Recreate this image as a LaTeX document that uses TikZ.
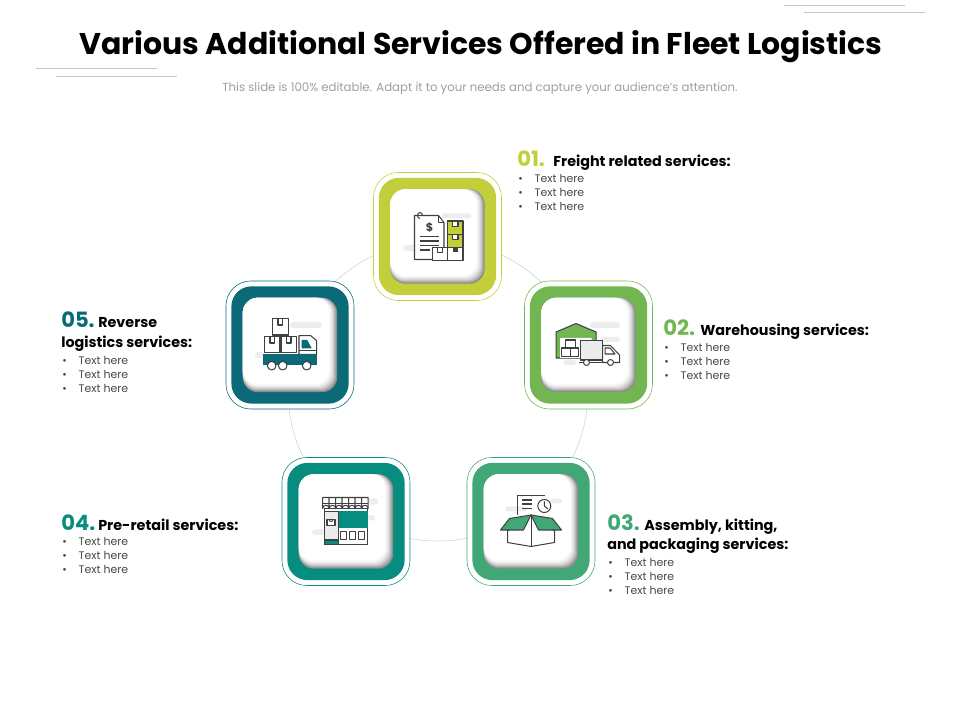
\documentclass[tikz,border=0pt]{standalone}
\usepackage{fontspec}
\setmainfont{Poppins}
\definecolor{col1}{HTML}{C2CF3B}
\definecolor{col2}{HTML}{72B651}
\definecolor{col3}{HTML}{41A776}
\definecolor{col4}{HTML}{078D80}
\definecolor{col5}{HTML}{0A6A78}
\definecolor{inkgray}{HTML}{404040}
\tikzset{
	outerbox/.style={rectangle,draw=#1,fill=white,line width=0.4pt,rounded corners=0.62cm,minimum size=3.2cm},
	colorbox/.style={rectangle,fill=#1,rounded corners=0.5cm,minimum size=2.93cm},
	shadebox/.style={rectangle,fill=black!#1,rounded corners=0.38cm},
	smudge/.style={fill=black!7,rounded corners=2pt},
	ink/.style={draw=inkgray,line width=0.72pt,line join=round},
	deco/.style={draw=black!22,line width=0.5pt},
	numlabel/.style={anchor=base west,inner sep=0pt,text=#1,font=\fontsize{15}{17}\selectfont\bfseries},
	headlabel/.style={anchor=base west,inner sep=0pt,font=\fontsize{10.2}{12}\selectfont\bfseries},
	itemlist/.style={anchor=north west,inner sep=0pt,align=left,text=black!72,font=\fontsize{7.8}{10}\selectfont},
}
\newcommand{\bul}{\makebox[11.6pt][l]{\textbullet}}
\begin{document}
\begin{tikzpicture}[x=0.025cm,y=-0.025cm]
	\useasboundingbox (0,0) rectangle (960,720);

	% header
	\node[inner sep=0pt,font=\fontsize{21.3}{25}\selectfont\bfseries] (title) at (481,47) {Various Additional Services Offered in Fleet Logistics};
	\node[inner sep=0pt,text=black!38,font=\fontsize{8.35}{10}\selectfont] (subtitle) at (480,88.5) {This slide is 100\% editable. Adapt it to your needs and capture your audience's attention.};
	\draw[deco] (784,5) -- (905,5);
	\draw[deco] (804,12) -- (925,12);
	\draw[deco] (36,68) -- (157,68);
	\draw[deco] (56,76) -- (177,76);

	% ring
	\node[circle,draw=black!18,line width=0.4pt,minimum size=7.5cm] (ring) at (438,391) {};

	% boxes
	\foreach \n/\x/\y/\c in {1/437.5/236.5/col1,2/588.5/345/col2,3/531/521.5/col3,4/346/521.5/col4,5/290/345/col5} {
		\node[outerbox=\c] (outer\n) at (\x,\y) {};
		\node[colorbox=\c] (color\n) at (\x,\y) {};
		\foreach \d/\g in {0/45,1/36,2/28,3/20,4/14,5/9,6/5,7/2} {
			\node[shadebox=\g,minimum size=2.36cm-\d*0.025cm] at (\x-\d/2,\y-\d/2) {};
		}
		\node[rectangle,fill=white,rounded corners=0.38cm,minimum size=2.16cm] (inner\n) at (\x-4,\y-4) {};
		\coordinate (mid\n) at (\x,\y);
	}

	% icon 1
	\begin{scope}[shift={(mid1)}]
		\fill[smudge] (4,-23) rectangle (34,-18);
		\fill[smudge] (-34,8.5) rectangle (-4,14.5);
		\draw[ink,fill=white] (-23,-21) -- (1,-21) -- (6.5,-14) -- (6.5,23) -- (-23,23) -- cycle;
		\draw[ink] (1,-21) -- (1,-14) -- (6.5,-14);
		\draw[ink] (-15,-21) arc (0:-270:2.5 and 3);
		\node[inner sep=0pt,text=inkgray,font=\fontsize{8}{8}\selectfont\bfseries] (dollar) at (-8,-9) {\$};
		\draw[ink] (-18,0) -- (1,0);
		\draw[ink] (-18,4.5) -- (1,4.5);
		\draw[ink] (-18,9) -- (1,9);
		\draw[ink] (-18,13.5) -- (-8,13.5);
		\draw[ink,fill=col1] (10,-15.5) rectangle (25.5,-2);
		\draw[ink,fill=col1] (10,-2) rectangle (25.5,11);
		\draw[ink,fill=white] (-5,11) rectangle (10,24);
		\draw[ink,fill=white] (10,11) rectangle (25.5,24);
		\draw[ink,fill=white] (15,-15.5) rectangle (20.5,-10);
		\draw[ink,fill=white] (15,-2) rectangle (20.5,3);
		\draw[ink,fill=white] (0,11) rectangle (5,16);
		\fill[inkgray] (15,11) rectangle (20.5,16);
	\end{scope}

	% icon 2
	\begin{scope}[shift={(mid2)}]
		\fill[smudge] (1.5,-23) rectangle (31.5,-17);
		\fill[smudge] (11.5,-8) rectangle (31.5,-3);
		\fill[smudge] (-25,15) rectangle (-12,20);
		\draw[ink,fill=col2] (-32.5,13) -- (-32.5,-13) -- (-12.5,-21.5) -- (7.5,-13) -- (7.5,-4) -- (-8,-4) -- (-8,13) -- (-28.5,13) -- cycle;
		\fill[white] (-28.5,13) -- (-28.5,-7) -- (3,-7) -- (3,-4) -- (-8,-4) -- (-8,13) -- cycle;
		\draw[ink,fill=white] (-23,-5) rectangle (-13.5,3);
		\draw[ink,fill=white] (-27,3) rectangle (-18.5,11.5);
		\draw[ink,fill=white] (-18.5,3) rectangle (-10,11.5);
		\draw[ink,fill=black!8] (-8,-4.5) rectangle (14,15);
		\draw[ink,fill=white] (14,0.5) -- (22,0.5) -- (31,10) -- (31,17.5) -- (14,17.5) -- cycle;
		\draw[ink] (16.5,3) -- (21.5,3) -- (26.5,9) -- (16.5,9) -- cycle;
		\draw[ink] (-10,17.5) -- (31.5,17.5);
		\draw[ink,fill=white] (-2,17.5) circle (3);
		\draw[ink,fill=white] (22,17.5) circle (3);
	\end{scope}

	% icon 3
	\begin{scope}[shift={(mid3)}]
		\fill[smudge] (-26,-15) rectangle (-4,-10);
		\fill[smudge] (19,-23) rectangle (31,-18);
		\draw[ink] (-13.5,-6.5) -- (-13.5,-26) -- (14,-26);
		\draw[ink] (-9,-21.5) -- (1,-21.5);
		\draw[ink] (-9,-17.5) -- (1,-17.5);
		\draw[ink] (-9,-13) -- (1,-13);
		\draw[ink,fill=white] (13.3,-15.5) circle (6.5);
		\draw[ink] (13.3,-20) -- (13.3,-15.5) -- (17,-12.5);
		\draw[ink,fill=white] (-23.5,9.5) -- (-23.5,21) -- (0,25) -- (23.5,21) -- (23.5,9.5) -- (0,-6.5) -- cycle;
		\draw[ink,fill=col3] (0,-6.5) -- (-21.5,-3) -- (-30.5,8.5) -- (-7.5,8.5) -- cycle;
		\draw[ink,fill=col3] (0,-6.5) -- (21.5,-3) -- (30.5,8.5) -- (7.5,8.5) -- cycle;
		\draw[ink] (0,-6.5) -- (0,25);
	\end{scope}

	% icon 4
	\begin{scope}[shift={(mid4)}]
		\fill[smudge] (-34,8) rectangle (-21,13.5);
		\fill[smudge] (17,-6.5) rectangle (29,-1);
		\fill[smudge] (22,-23) rectangle (32,-17);
		\draw[ink,fill=white] (-21.7,-13) rectangle (21.7,23);
		\fill[col4] (-7.7,-10) rectangle (21.7,7);
		\draw[ink,fill=black!8] (-21.7,-10) rectangle (-7.7,23);
		\draw[ink,fill=col4] (-21.7,18.5) rectangle (-7.7,23);
		\draw[ink,fill=white] (-19,-2) rectangle (-11,4);
		\draw[ink] (-17,-2) arc (180:0:2);
		\draw[ink,fill=white] (-5.3,10) rectangle (0.7,18);
		\draw[ink,fill=white] (3.3,10) rectangle (9.3,18);
		\draw[ink,fill=white] (12.3,10) rectangle (18.3,18);
		\foreach \k in {0,...,6} {
			\draw[ink,fill=white] (-23.3+6.5*\k,-24) -- (-23.3+6.5*\k,-13) arc (180:360:3.25 and 3.25) -- (-16.8+6.5*\k,-24) -- cycle;
		}
		\draw[ink] (-23.3,-18) -- (22.2,-18);
	\end{scope}

	% icon 5
	\begin{scope}[shift={(mid5)}]
		\fill[smudge] (0,-23) rectangle (31.7,-17);
		\fill[smudge] (-35,7) rectangle (-26,13);
		\draw[ink,fill=white] (-17.7,-26.7) rectangle (-1.7,-10);
		\draw[ink,fill=white] (-25.7,-8.3) rectangle (-10,7.3);
		\draw[ink,fill=white] (-9,-8.3) rectangle (6.7,7.3);
		\draw[ink] (-12,-26.7) -- (-12,-20) -- (-7.5,-20) -- (-7.5,-26.7);
		\draw[ink] (-20,-8.3) -- (-20,-2) -- (-15.5,-2) -- (-15.5,-8.3);
		\draw[ink] (-3.5,-8.3) -- (-3.5,-2) -- (1,-2) -- (1,-8.3);
		\draw[ink,fill=white] (9,9.3) -- (9,-9.3) -- (20.7,-9.3) -- (26.7,-4.3) -- (26.7,9.3) -- cycle;
		\fill[col5] (11.7,-5) -- (17.3,-5) -- (21.7,3.3) -- (11.7,3.3) -- cycle;
		\draw[ink] (9,5.5) -- (26.7,5.5);
		\fill[col5] (-26.7,9.3) rectangle (26.7,20);
		\draw[ink,fill=white] (-18.3,20.7) circle (4.3);
		\draw[ink,fill=white] (-7.3,20.7) circle (4.3);
		\draw[ink,fill=white] (16.7,20.7) circle (4.3);
	\end{scope}

	% texts
	\node[numlabel=col1] (num1) at (517,166.5) {01.};
	\node[headlabel] (head1) at (553,166.5) {Freight related services:};
	\node[itemlist] (list1) at (518,174) {\bul Text here\\\bul Text here\\\bul Text here};

	\node[numlabel=col2] (num2) at (663,336) {02.};
	\node[headlabel] (head2) at (700,336) {Warehousing services:};
	\node[itemlist] (list2) at (664,343) {\bul Text here\\\bul Text here\\\bul Text here};

	\node[numlabel=col3] (num3) at (607,531) {03.};
	\node[headlabel] (head3) at (644,531) {Assembly, kitting,};
	\node[headlabel] (head3b) at (607,550) {and packaging services:};
	\node[itemlist] (list3) at (608,558) {\bul Text here\\\bul Text here\\\bul Text here};

	\node[numlabel=col4] (num4) at (61,530) {04.};
	\node[headlabel] (head4) at (98,530) {Pre-retail services:};
	\node[itemlist] (list4) at (62,537) {\bul Text here\\\bul Text here\\\bul Text here};

	\node[numlabel=col5] (num5) at (61,328) {05.};
	\node[headlabel] (head5) at (98,328) {Reverse};
	\node[headlabel] (head5b) at (61,348) {logistics services:};
	\node[itemlist] (list5) at (62,356) {\bul Text here\\\bul Text here\\\bul Text here};
\end{tikzpicture}
\end{document}
